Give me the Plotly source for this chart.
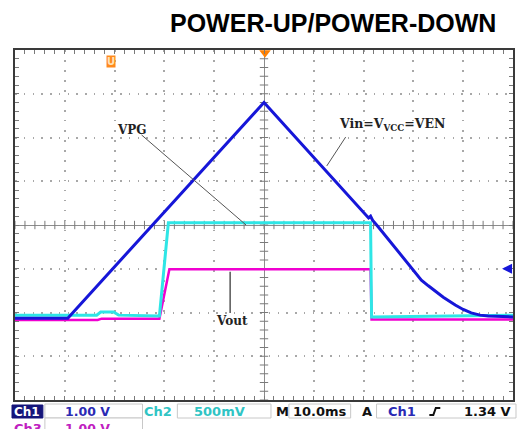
import numpy as np
import plotly.graph_objects as go

# ---------------- data (time in ms, 10 ms/div; amplitude in screen divisions) ----------------
vin_t = [-50, -39.4, 0, 14, 21, 21.4, 21.8, 23, 31.6, 33, 34.4, 36, 38.4, 40, 41.6, 43.4, 45, 50]
vin_div = [-2.13, -2.13, 2.80, 1.03, 0.16, 0.20, 0.11, -0.05, -1.26, -1.39, -1.51, -1.65, -1.83,
           -1.93, -2.01, -2.06, -2.08, -2.10]

vpc_t = [-50, -33.6, -32.8, -30.2, -29.2, -21, -19.2, 21.4, 21.6, 50]
vpc_div = [-2.06, -2.06, -1.99, -1.99, -2.06, -2.08, 0.05, 0.05, -2.10, -2.06]

vout_t = [-50, -33.4, -32.6, -21, -19.0, 21.4, 21.6, 50]
vout_div = [-2.17, -2.17, -2.14, -2.14, -1.01, -1.01, -2.16, -2.16]

title_text = "POWER-UP/POWER-DOWN"
status_row1 = ["Ch1", "1.00 V", "Ch2", "500mV", "M", "10.0ms", "A", "Ch1", "1.34 V"]
status_row2 = ["Ch3", "1.00 V"]

# ---------------- layout geometry ----------------
W, H = 517, 429
L, R, T, B = 15, 2, 50, 29
PW, PH = W - L - R, H - T - B


def pxp(xp):
    return (xp - L) / PW


def pyp(yp):
    return (H - B - yp) / PH


BLUE = "#1616d8"
CYAN = "#2ee6e6"
MAG = "#f000d0"
GRIDC = "#a8a8a8"
TICKC = "#7a7a7a"

fig = go.Figure()

# center-line tick marks (scope graticule)
cx = np.arange(-50, 50.01, 2)
fig.add_trace(go.Scatter(x=cx, y=np.zeros_like(cx), mode="markers",
                         marker=dict(symbol="line-ns", size=6, line=dict(width=1, color=TICKC)),
                         hoverinfo="skip", showlegend=False))
cy = np.arange(-4, 4.01, 0.2)
fig.add_trace(go.Scatter(x=np.zeros_like(cy), y=cy, mode="markers",
                         marker=dict(symbol="line-ew", size=6, line=dict(width=1, color=TICKC)),
                         hoverinfo="skip", showlegend=False))

# signals
fig.add_trace(go.Scatter(x=vout_t, y=vout_div, mode="lines", line=dict(color=MAG, width=2.5),
                         name="Vout", showlegend=False))
fig.add_trace(go.Scatter(x=vpc_t, y=vpc_div, mode="lines", line=dict(color=CYAN, width=3),
                         name="VPG", showlegend=False))
fig.add_trace(go.Scatter(x=vin_t, y=vin_div, mode="lines", line=dict(color=BLUE, width=3),
                         name="Vin", showlegend=False))

# trigger position marker (top) and ground marker (left)
fig.add_trace(go.Scatter(x=[0.2], y=[3.94], mode="markers", cliponaxis=False,
                         marker=dict(symbol="triangle-down", size=10, color="#ff8000"),
                         hoverinfo="skip", showlegend=False))
fig.add_trace(go.Scatter(x=[-50.8], y=[-2.31], mode="markers", cliponaxis=False,
                         marker=dict(symbol="circle", size=4, color=BLUE),
                         hoverinfo="skip", showlegend=False))

axis_common = dict(showticklabels=False, showline=True, linecolor="#3a3a3a", linewidth=2,
                   mirror="allticks", ticks="inside", ticklen=4, tickcolor=TICKC, tickwidth=1,
                   zeroline=True, zerolinecolor="#8c8c8c", zerolinewidth=1,
                   showgrid=True, gridcolor=GRIDC, gridwidth=1.5, fixedrange=True)

fig.update_xaxes(range=[-50, 50], dtick=10, tick0=0, griddash="1.5px,8.5px",
                 minor=dict(dtick=2, ticks="inside", ticklen=4, tickcolor=TICKC, showgrid=False),
                 **axis_common)
fig.update_yaxes(range=[-4, 4], dtick=1, tick0=0, griddash="1.5px,7.25px",
                 minor=dict(dtick=0.2, ticks="inside", ticklen=4, tickcolor=TICKC, showgrid=False),
                 **axis_common)

annotations = []
shapes = []

# title
annotations.append(dict(xref="paper", yref="paper", x=pxp(500), y=pyp(22.5), xanchor="right",
                        yanchor="middle", text="<b>" + title_text + "</b>", showarrow=False,
                        font=dict(family="Liberation Sans, Arial", size=25, color="black")))

# signal labels
lab_font = dict(family="DejaVu Serif", size=12, color="#222222")
annotations.append(dict(x=-26.6, y=2.17, text="<b>VPG</b>", showarrow=False, font=lab_font))
annotations.append(dict(x=25.7, y=2.29, text="<b>Vin=V<sub>VCC</sub>=VEN</b>", showarrow=False,
                        font=dict(family="DejaVu Serif", size=12.5, color="#222222")))
annotations.append(dict(x=-6.4, y=-2.19, text="<b>Vout</b>", showarrow=False, font=lab_font))

shapes.append(dict(type="line", x0=-24.6, y0=2.06, x1=-3.6, y1=0.0, line=dict(color="#555", width=1)))
shapes.append(dict(type="line", x0=16.4, y0=2.01, x1=12.6, y1=1.35, line=dict(color="#555", width=1)))
shapes.append(dict(type="line", x0=-6.8, y0=-1.07, x1=-6.8, y1=-2.01, line=dict(color="#555", width=1.5)))

# orange "U" marker
annotations.append(dict(x=-30.8, y=3.73, text="<b>U</b>", showarrow=False, bgcolor="#ff8a1c",
                        borderpad=0, font=dict(family="DejaVu Sans", size=10, color="#ffe2b8")))

# trigger level arrow (right side)
annotations.append(dict(x=47.8, y=-1.0, ax=11, ay=0, text="", showarrow=True, arrowhead=2,
                        arrowsize=1, arrowwidth=2, arrowcolor=BLUE))

# ---------------- status bar ----------------
def box(x0, x1, y0, y1, fill="white", line="#c8c8c8"):
    shapes.append(dict(type="rect", xref="paper", yref="paper", x0=pxp(x0), x1=pxp(x1),
                       y0=pyp(y1), y1=pyp(y0), fillcolor=fill, line=dict(color=line, width=1),
                       layer="above"))


def stxt(xc, yc, text, color, size=12.5, anchor="center"):
    annotations.append(dict(xref="paper", yref="paper", x=pxp(xc), y=pyp(yc), xanchor=anchor,
                            yanchor="middle", text="<b>" + text + "</b>", showarrow=False,
                            font=dict(family="DejaVu Sans", size=size, color=color)))


SB_BLUE = "#2a2ab4"
SB_CYAN = "#30c4c4"
SB_MAG = "#c020c0"

box(12, 43, 405, 418, fill="#15157a", line="#15157a")
box(45, 143, 404, 418)
box(178, 272, 404, 418)
box(290, 352, 404, 418)
box(378, 518, 404, 418)
box(45, 143, 418, 440)

stxt(27.5, 411.5, status_row1[0], "white", 12)
stxt(88, 411.5, status_row1[1], SB_BLUE)
stxt(159, 411.5, status_row1[2], SB_CYAN, 13)
stxt(220, 411.5, status_row1[3], SB_CYAN, 13)
stxt(284, 411.5, status_row1[4], "#111111", 13)
stxt(321, 411.5, status_row1[5], "#111111", 13)
stxt(368, 411.5, status_row1[6], "#111111", 13)
stxt(404, 411.5, status_row1[7], SB_BLUE, 13)
stxt(515, 411.5, status_row1[8], "#111111", 13, anchor="right")
# rising-edge symbol
shapes.append(dict(type="path", xref="paper", yref="paper",
                   path="M {},{} L {},{} L {},{} L {},{}".format(
                       pxp(431), pyp(415), pxp(435), pyp(415), pxp(437.5), pyp(408), pxp(442), pyp(408)),
                   line=dict(color="#111111", width=2)))

stxt(28, 428, status_row2[0], SB_MAG, 13)
stxt(88, 428, status_row2[1], SB_MAG, 12.5)

fig.update_layout(width=W, height=H, autosize=False,
                  margin=dict(l=L, r=R, t=T, b=B, pad=0),
                  paper_bgcolor="white", plot_bgcolor="white",
                  showlegend=False, hovermode=False,
                  annotations=annotations, shapes=shapes)

fig.write_html("out.html", config={"displayModeBar": False},
               post_script="document.body.style.margin='0';document.body.style.overflow='hidden';")
